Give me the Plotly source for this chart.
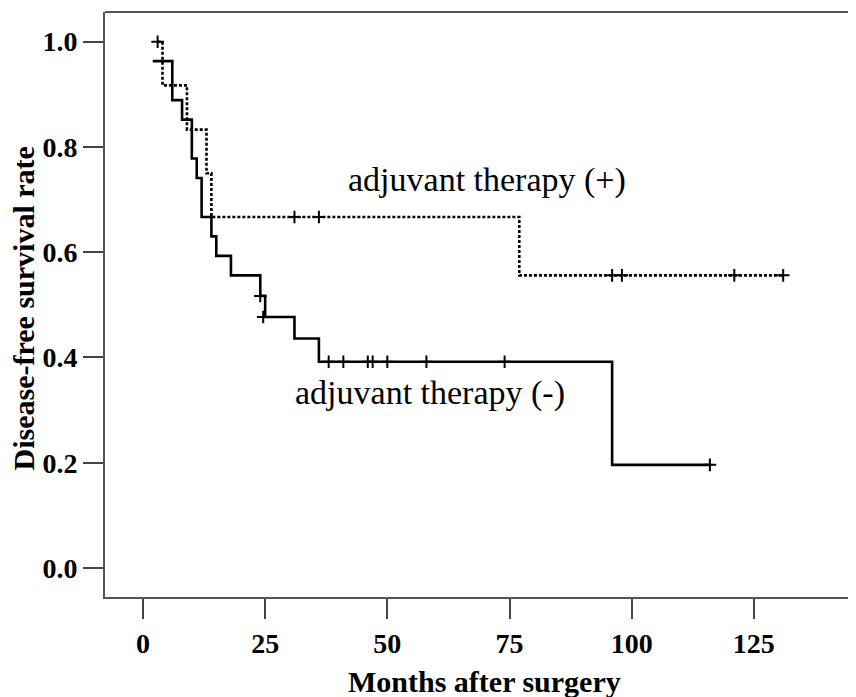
import plotly.graph_objects as go

# Adjuvant therapy (+) : step points (months, survival)
pos_times = [3, 4, 9, 13, 14, 77, 131]
pos_surv = [1.0, 0.917, 0.833, 0.750, 0.667, 0.556, 0.556]
pos_cens_times = [3, 31, 36, 96, 98, 121, 131]
pos_cens_surv = [1.0, 0.667, 0.667, 0.556, 0.556, 0.556, 0.556]

# Adjuvant therapy (-)
neg_times = [2, 6, 8, 10, 11, 12, 14, 15, 18, 24, 25, 31, 36, 96, 116]
neg_surv = [0.963, 0.889, 0.852, 0.778, 0.741, 0.667, 0.630, 0.593, 0.556,
            0.517, 0.477, 0.436, 0.392, 0.196, 0.196]
neg_cens_times = [24, 24.6, 38, 41, 46, 47, 50, 58, 74, 116]
neg_cens_surv = [0.517, 0.477, 0.392, 0.392, 0.392, 0.392, 0.392, 0.392, 0.392, 0.196]

x_ticks = [0, 25, 50, 75, 100, 125]
y_ticks = [0.0, 0.2, 0.4, 0.6, 0.8, 1.0]
y_tick_labels = ["0.0", "0.2", "0.4", "0.6", "0.8", "1.0"]

cens_marker = dict(symbol="cross-thin-open", size=9, color="black",
                   line=dict(color="black", width=2))

fig = go.Figure()
fig.add_trace(go.Scatter(x=pos_times, y=pos_surv, mode="lines", line_shape="hv",
                         line=dict(color="black", width=2.6, dash="3px,2px"),
                         showlegend=False, hoverinfo="skip"))
fig.add_trace(go.Scatter(x=pos_cens_times, y=pos_cens_surv, mode="markers",
                         marker=cens_marker, showlegend=False, hoverinfo="skip"))
fig.add_trace(go.Scatter(x=neg_times, y=neg_surv, mode="lines", line_shape="hv",
                         line=dict(color="black", width=2.6),
                         showlegend=False, hoverinfo="skip"))
fig.add_trace(go.Scatter(x=neg_cens_times, y=neg_cens_surv, mode="markers",
                         marker=cens_marker, showlegend=False, hoverinfo="skip"))

tickfont = dict(family="Liberation Serif", size=28, color="black", weight="bold")
fig.update_layout(
    width=848, height=689,
    margin=dict(l=97, r=0, t=4, b=100),
    paper_bgcolor="white", plot_bgcolor="white",
    xaxis=dict(range=[-7.77, 145.9], tickvals=x_ticks, ticks="outside", ticklen=20,
               tickwidth=2, tickcolor="#444", showline=True, linecolor="#555",
               linewidth=2, showgrid=False, zeroline=False, tickfont=tickfont),
    yaxis=dict(range=[-0.0551, 1.0564], tickvals=y_ticks, ticktext=y_tick_labels,
               ticks="outside", ticklen=20, tickwidth=2, tickcolor="#444",
               showline=True, linecolor="#555", linewidth=2, showgrid=False,
               zeroline=False, tickfont=tickfont),
    shapes=[dict(type="line", xref="paper", yref="paper", x0=0, x1=1, y0=1, y1=1,
                 line=dict(color="#555", width=2))],
    annotations=[
        dict(text="adjuvant therapy (+)", x=70.3, y=0.737, xref="x", yref="y",
             showarrow=False, font=dict(family="Liberation Serif", size=34, color="black")),
        dict(text="adjuvant therapy (-)", x=58.7, y=0.333, xref="x", yref="y",
             showarrow=False, font=dict(family="Liberation Serif", size=34, color="black")),
        dict(text="Months after surgery", x=0.505, y=-0.1436, xref="paper", yref="paper",
             xanchor="center", yanchor="middle", showarrow=False,
             font=dict(family="Liberation Serif", size=30, color="black", weight="bold")),
        dict(text="Disease-free survival rate", x=-0.1079, y=0.4932, xref="paper",
             yref="paper", xanchor="center", yanchor="middle", textangle=-90,
             showarrow=False,
             font=dict(family="Liberation Serif", size=30, color="black", weight="bold")),
    ],
)

fig.write_html("out.html")
